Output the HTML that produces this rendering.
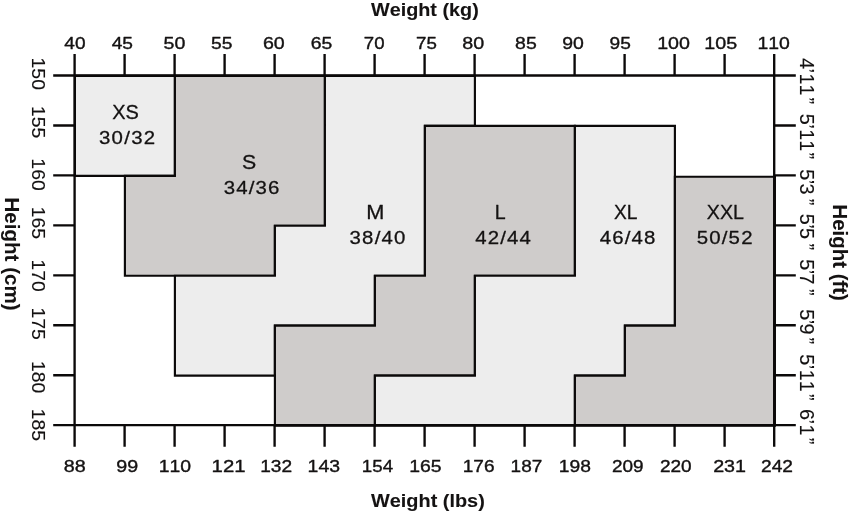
<!DOCTYPE html>
<html><head><meta charset="utf-8"><title>Size chart</title>
<style>html,body{margin:0;padding:0;background:#fff}svg{display:block}text{font-kerning:none}</style></head>
<body>
<svg width="849" height="511" viewBox="0 0 849 511">
<rect width="849" height="511" fill="#fff"/>
<polygon fill="#ededed" stroke="#0b0909" stroke-width="2.15" stroke-linejoin="miter" points="74.9,75.9 174.9,75.9 174.9,175.8 74.9,175.8"/>
<polygon fill="#cfcccb" stroke="#0b0909" stroke-width="2.15" stroke-linejoin="miter" points="174.9,75.9 324.9,75.9 324.9,225.75 274.9,225.75 274.9,275.7 124.9,275.7 124.9,175.8 174.9,175.8"/>
<polygon fill="#ededed" stroke="#0b0909" stroke-width="2.15" stroke-linejoin="miter" points="324.9,75.9 474.9,75.9 474.9,125.85 424.9,125.85 424.9,275.7 374.9,275.7 374.9,325.65 274.9,325.65 274.9,375.6 174.9,375.6 174.9,275.7 274.9,275.7 274.9,225.75 324.9,225.75"/>
<polygon fill="#cfcccb" stroke="#0b0909" stroke-width="2.15" stroke-linejoin="miter" points="424.9,125.85 574.9,125.85 574.9,275.7 474.9,275.7 474.9,375.6 374.9,375.6 374.9,425.55 274.9,425.55 274.9,325.65 374.9,325.65 374.9,275.7 424.9,275.7"/>
<polygon fill="#ededed" stroke="#0b0909" stroke-width="2.15" stroke-linejoin="miter" points="574.9,125.85 674.9,125.85 674.9,325.65 624.9,325.65 624.9,375.6 574.9,375.6 574.9,425.55 374.9,425.55 374.9,375.6 474.9,375.6 474.9,275.7 574.9,275.7"/>
<polygon fill="#cfcccb" stroke="#0b0909" stroke-width="2.15" stroke-linejoin="miter" points="674.9,176.75 774.9,176.75 774.9,425.55 574.9,425.55 574.9,375.6 624.9,375.6 624.9,325.65 674.9,325.65"/>
<g stroke="#0b0909" stroke-width="2.35" fill="none">
<path d="M53.2 75.5 H795.8 M53.2 425.15 H795.8 M74.6 54 V446.8 M774.2 54 V446.8"/>
<path d="M124.6 54 V75.5 M124.6 425.15 V446.8 M174.6 54 V75.5 M174.6 425.15 V446.8 M224.6 54 V75.5 M224.6 425.15 V446.8 M274.6 54 V75.5 M274.6 425.15 V446.8 M324.6 54 V75.5 M324.6 425.15 V446.8 M374.6 54 V75.5 M374.6 425.15 V446.8 M424.6 54 V75.5 M424.6 425.15 V446.8 M474.6 54 V75.5 M474.6 425.15 V446.8 M524.6 54 V75.5 M524.6 425.15 V446.8 M574.6 54 V75.5 M574.6 425.15 V446.8 M624.6 54 V75.5 M624.6 425.15 V446.8 M674.6 54 V75.5 M674.6 425.15 V446.8 M724.6 54 V75.5 M724.6 425.15 V446.8 M53.2 125.45 H74.6 M774.2 125.45 H795.8 M53.2 175.4 H74.6 M774.2 175.4 H795.8 M53.2 225.35 H74.6 M774.2 225.35 H795.8 M53.2 275.3 H74.6 M774.2 275.3 H795.8 M53.2 325.25 H74.6 M774.2 325.25 H795.8 M53.2 375.2 H74.6 M774.2 375.2 H795.8"/>
</g>
<g fill="#141212" stroke="#141212" stroke-width="0.38" stroke-linejoin="round" font-family="'Liberation Sans', Arial, Helvetica, sans-serif">
<text transform="translate(64.28 48.50) scale(1.1302 1)" font-size="16.90">40</text>
<text transform="translate(63.86 472.00) scale(1.1593 1)" font-size="17.04">88</text>
<text transform="translate(111.68 48.50) scale(1.1333 1)" font-size="16.90">45</text>
<text transform="translate(116.20 472.00) scale(1.1561 1)" font-size="17.04">99</text>
<text transform="translate(163.53 48.50) scale(1.1603 1)" font-size="16.90">50</text>
<text transform="translate(158.78 472.00) scale(1.1379 1)" font-size="17.04">110</text>
<text transform="translate(210.95 48.50) scale(1.1406 1)" font-size="16.90">55</text>
<text transform="translate(211.58 472.00) scale(1.1954 1)" font-size="17.04">121</text>
<text transform="translate(262.92 48.50) scale(1.1609 1)" font-size="16.90">60</text>
<text transform="translate(260.21 472.00) scale(1.1231 1)" font-size="17.04">132</text>
<text transform="translate(310.64 48.50) scale(1.1469 1)" font-size="16.90">65</text>
<text transform="translate(307.57 472.00) scale(1.1416 1)" font-size="17.04">143</text>
<text transform="translate(363.86 48.50) scale(1.1036 1)" font-size="16.90">70</text>
<text transform="translate(361.85 472.00) scale(1.1001 1)" font-size="17.04">154</text>
<text transform="translate(416.06 48.50) scale(1.1068 1)" font-size="16.90">75</text>
<text transform="translate(409.18 472.00) scale(1.1401 1)" font-size="17.04">165</text>
<text transform="translate(462.37 48.50) scale(1.1642 1)" font-size="16.90">80</text>
<text transform="translate(462.72 472.00) scale(1.1184 1)" font-size="17.04">176</text>
<text transform="translate(515.08 48.50) scale(1.1502 1)" font-size="16.90">85</text>
<text transform="translate(510.62 472.00) scale(1.1154 1)" font-size="17.04">187</text>
<text transform="translate(562.21 48.50) scale(1.1508 1)" font-size="16.90">90</text>
<text transform="translate(558.80 472.00) scale(1.1296 1)" font-size="17.04">198</text>
<text transform="translate(609.62 48.50) scale(1.1309 1)" font-size="16.90">95</text>
<text transform="translate(612.07 472.00) scale(1.1117 1)" font-size="17.04">209</text>
<text transform="translate(657.15 48.50) scale(1.1631 1)" font-size="16.90">100</text>
<text transform="translate(659.96 472.00) scale(1.1170 1)" font-size="17.04">220</text>
<text transform="translate(704.35 48.50) scale(1.1653 1)" font-size="16.90">105</text>
<text transform="translate(713.13 472.00) scale(1.1576 1)" font-size="17.04">231</text>
<text transform="translate(757.48 48.50) scale(1.1476 1)" font-size="16.90">110</text>
<text transform="translate(761.06 472.00) scale(1.1250 1)" font-size="17.04">242</text>
<text stroke-width="0.12" transform="translate(32.00 57.56) scale(0.9735 1) rotate(90)" font-size="19.42">150</text>
<text stroke-width="0.12" transform="translate(32.00 106.07) scale(0.9782 1) rotate(90)" font-size="19.33">155</text>
<text stroke-width="0.12" transform="translate(32.00 158.36) scale(0.9735 1) rotate(90)" font-size="19.42">160</text>
<text stroke-width="0.12" transform="translate(32.00 206.67) scale(0.9782 1) rotate(90)" font-size="19.33">165</text>
<text stroke-width="0.12" transform="translate(32.00 259.57) scale(0.9801 1) rotate(90)" font-size="19.29">170</text>
<text stroke-width="0.12" transform="translate(32.00 307.45) scale(0.9716 1) rotate(90)" font-size="19.46">175</text>
<text stroke-width="0.12" transform="translate(32.00 360.96) scale(0.9735 1) rotate(90)" font-size="19.42">180</text>
<text stroke-width="0.12" transform="translate(32.00 408.67) scale(0.9782 1) rotate(90)" font-size="19.33">185</text>
<text stroke-width="0.12" transform="translate(799.80 58.05) scale(0.9768 1) rotate(90)" x="0.00 10.51 15.51 26.52 39.39" font-size="19.80">4’11”</text>
<text stroke-width="0.12" transform="translate(799.80 113.81) scale(0.9768 1) rotate(90)" x="0.00 10.51 15.51 26.52 38.82" font-size="19.80">5’11”</text>
<text stroke-width="0.12" transform="translate(799.80 169.21) scale(0.9768 1) rotate(90)" x="0.00 10.51 14.21 29.62" font-size="19.80">5’3”</text>
<text stroke-width="0.12" transform="translate(799.80 213.71) scale(0.9768 1) rotate(90)" x="0.00 10.51 14.21 29.82" font-size="19.80">5’5”</text>
<text stroke-width="0.12" transform="translate(799.80 259.21) scale(0.9768 1) rotate(90)" x="0.00 10.51 14.21 29.92" font-size="19.80">5’7”</text>
<text stroke-width="0.12" transform="translate(799.80 309.21) scale(0.9768 1) rotate(90)" x="0.00 10.51 14.21 28.42" font-size="19.80">5’9”</text>
<text stroke-width="0.12" transform="translate(799.80 354.21) scale(0.9768 1) rotate(90)" x="0.00 10.51 15.51 26.52 39.92" font-size="19.80">5’11”</text>
<text stroke-width="0.12" transform="translate(799.80 408.99) scale(0.9768 1) rotate(90)" x="0.00 10.51 15.51 28.84" font-size="19.80">6’1”</text>
<text transform="translate(370.98 15.60) scale(1.0481 1)" font-size="18.90" font-weight="bold" stroke-width="0.1">Weight (kg)</text>
<text transform="translate(370.98 506.60) scale(1.0447 1)" font-size="19.04" font-weight="bold" stroke-width="0.1">Weight (lbs)</text>
<text transform="translate(4.60 197.52) scale(0.9684 1) rotate(90)" font-size="20.56" font-weight="bold" stroke-width="0.1">Height (cm)</text>
<text transform="translate(832.80 204.43) scale(1.0098 1) rotate(90)" font-size="20.44" font-weight="bold" stroke-width="0.1">Height (ft)</text>
<text stroke-width="0.3" transform="translate(112.27 118.70) scale(1.0023 1)" font-size="19.91">XS</text>
<text stroke-width="0.3" transform="translate(98.92 143.80) scale(1.0800 1)" font-size="18.90" letter-spacing="1.207">30/32</text>
<text stroke-width="0.3" transform="translate(242.05 169.00) scale(1.0695 1)" font-size="19.91">S</text>
<text stroke-width="0.3" transform="translate(223.82 194.20) scale(1.0800 1)" font-size="18.90" letter-spacing="1.038">34/36</text>
<text stroke-width="0.3" transform="translate(366.13 219.00) scale(1.0930 1)" font-size="19.91">M</text>
<text stroke-width="0.3" transform="translate(349.52 244.20) scale(1.0800 1)" font-size="18.90" letter-spacing="1.130">38/40</text>
<text stroke-width="0.3" transform="translate(494.81 219.10) scale(0.9863 1)" font-size="19.91">L</text>
<text stroke-width="0.3" transform="translate(475.33 244.30) scale(1.0800 1)" font-size="18.90" letter-spacing="1.013">42/44</text>
<text stroke-width="0.3" transform="translate(613.89 219.10) scale(0.9618 1)" font-size="19.91">XL</text>
<text stroke-width="0.3" transform="translate(599.63 244.00) scale(1.0800 1)" font-size="18.90" letter-spacing="1.103">46/48</text>
<text stroke-width="0.3" transform="translate(706.78 218.80) scale(0.9871 1)" font-size="19.91">XXL</text>
<text stroke-width="0.3" transform="translate(696.78 243.70) scale(1.0800 1)" font-size="18.90" letter-spacing="1.077">50/52</text>
</g></svg>
</body></html>
